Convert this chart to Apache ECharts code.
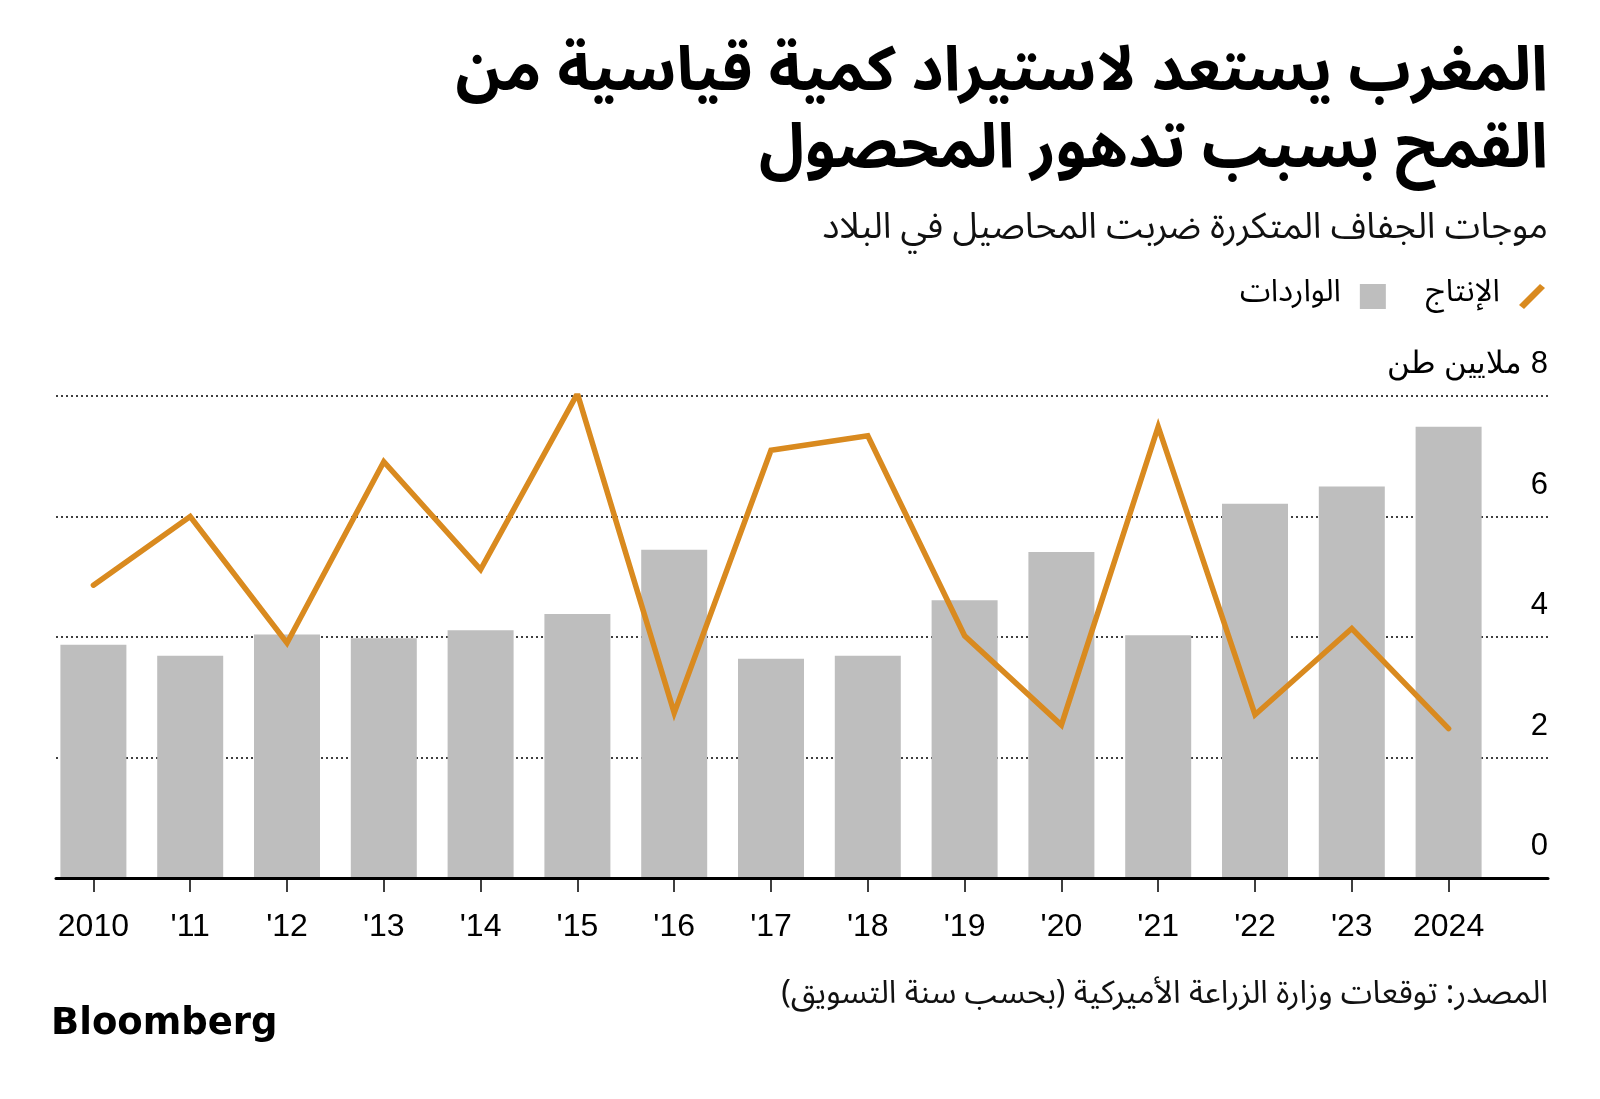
<!DOCTYPE html>
<html><head><meta charset="utf-8">
<script src="https://cdn.jsdelivr.net/npm/echarts@6/dist/echarts.min.js"></script>
<style>html,body{margin:0;padding:0;background:#fff}#c{width:1600px;height:1099px}</style>
</head><body><div id="c"></div>
<script>
const categories = ['2010', "'11", "'12", "'13", "'14", "'15", "'16", "'17", "'18", "'19", "'20", "'21", "'22", "'23", '2024'];
const importsData = [3.87, 3.69, 4.04, 3.98, 4.11, 4.38, 5.45, 3.64, 3.69, 4.61, 5.41, 4.03, 6.21, 6.50, 7.49];
const productionData = [4.86, 6.00, 3.90, 6.91, 5.12, 8.04, 2.74, 7.10, 7.34, 4.02, 2.54, 7.49, 2.71, 4.14, 2.48];
const yMin = 0, yMax = 8, yStep = 2;
const titleLines = ['المغرب يستعد لاستيراد كمية قياسية من', 'القمح بسبب تدهور المحصول'];
const subtitleText = 'موجات الجفاف المتكررة ضربت المحاصيل في البلاد';
const sourceText = 'المصدر: توقعات وزارة الزراعة الأميركية (بحسب سنة التسويق)';
const unitText = 'ملايين طن';
const importsName = 'الواردات';
const productionName = 'الإنتاج';
const logoText = 'Bloomberg';

const rtl = s => '\u202B' + s + '\u202C';
const AR = '"Noto Sans Arabic", "DejaVu Sans", sans-serif';
const LAT = '"Liberation Sans", Arial, sans-serif';
const orange = '#d98a1f';
const grey = '#bebebe';

const chart = echarts.init(document.getElementById('c'), null, {renderer: 'canvas'});
chart.setOption({
  animation: false,
  backgroundColor: '#fff',
  graphic: [
    {type: 'text', right: 52, top: 42, z: 10, style: {text: titleLines.map(rtl).join('\n'), align: 'right', textAlign: 'right', fill: '#000', fontFamily: AR, fontWeight: 'bold', fontSize: 62, lineHeight: 77}},
    {type: 'text', right: 52, top: 215, z: 10, style: {text: rtl(subtitleText), align: 'right', textAlign: 'right', fill: '#111', fontFamily: AR, fontSize: 36}},
    {type: 'text', right: 52, top: 982, z: 10, style: {text: rtl(sourceText), align: 'right', textAlign: 'right', fill: '#111', fontFamily: AR, fontSize: 32}},
    {type: 'text', left: 51, top: 1006, z: 10, style: {text: logoText, fill: '#000', fontFamily: '"DejaVu Sans", sans-serif', fontWeight: 'bold', fontSize: 37}}
  ],
  legend: {
    right: 50, top: 276, itemWidth: 26, itemHeight: 25, itemGap: 40, align: 'right',
    itemStyle: {borderWidth: 0},
    textStyle: {fontSize: 31, color: '#000', fontFamily: AR, padding: [0, 14, 0, 0]},
    data: [
      {name: importsName, icon: 'rect', itemStyle: {color: grey}},
      {name: productionName, icon: 'path://M0,21 L21,0 L26,4 L5,25 Z', itemStyle: {color: orange}}
    ]
  },
  grid: [
    {left: 45, right: 103, top: 396, bottom: 221},
    {left: 56, right: 52, top: 396, bottom: 221}
  ],
  xAxis: [
    {gridIndex: 0, type: 'category', data: categories,
     axisLine: {show: false},
     axisTick: {show: true, alignWithLabel: true, length: 14, lineStyle: {color: '#000', width: 1.5}},
     axisLabel: {fontSize: 32, color: '#000', margin: 33, fontFamily: LAT},
     splitLine: {show: false}},
    {gridIndex: 1, type: 'category', data: categories, z: 10,
     axisLine: {show: true, lineStyle: {color: '#000', width: 3}},
     axisTick: {show: false}, axisLabel: {show: false}, splitLine: {show: false}}
  ],
  yAxis: [
    {gridIndex: 0, type: 'value', min: yMin, max: yMax, interval: yStep, show: false, splitLine: {show: false}},
    {gridIndex: 1, type: 'value', min: yMin, max: yMax, interval: yStep, position: 'right',
     axisLine: {show: false}, axisTick: {show: false},
     splitLine: {show: true, lineStyle: {color: '#000', width: 1.5, type: [2, 3]}},
     axisLabel: {inside: true, margin: 0, verticalAlign: 'bottom', padding: [0, 0, 16, 0], fontSize: 31, color: '#000', fontFamily: LAT,
       formatter: v => v === yMax ? rtl(v + ' ' + unitText) : String(v)}}
  ],
  series: [
    {name: importsName, type: 'bar', xAxisIndex: 0, yAxisIndex: 0, data: importsData, barWidth: 66,
     itemStyle: {color: grey}, z: 2},
    {name: productionName, type: 'line', xAxisIndex: 0, yAxisIndex: 0, data: productionData, symbol: 'none',
     itemStyle: {color: orange}, lineStyle: {color: orange, width: 5.5, cap: 'round', join: 'miter'}, z: 5}
  ]
});
</script></body></html>
